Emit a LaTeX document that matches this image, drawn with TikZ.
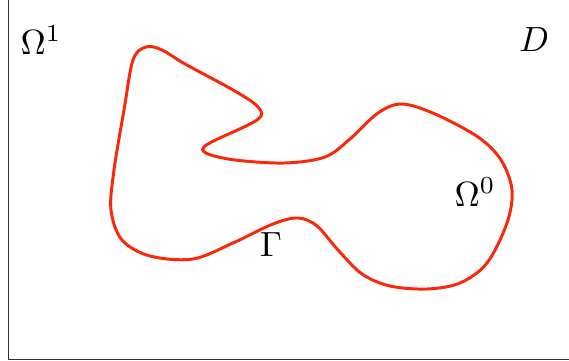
\documentclass[tikz,border=0pt]{standalone}
\usetikzlibrary{calc}
\definecolor{curvered}{RGB}{250,40,10}
\begin{document}
\begin{tikzpicture}[x=0.2857pt,y=-0.2857pt,
  frameline/.style={draw=black!80,line width=0.4pt},
  boundary/.style={draw=curvered,line width=0.85pt},
  lbl/.style={inner sep=0pt,font=\normalsize}]
\useasboundingbox (0,0) rectangle (569,361);
\coordinate (tl) at (8.5,0);
\coordinate (bl) at (8.5,359.5);
\coordinate (br) at (569,359.5);
\draw[frameline] (tl) -- (bl) -- (br);
\draw[boundary] plot[smooth cycle,tension=0.55] coordinates {
 (133,60) (146,47) (162,50) (185,64) (233,90) (258,107) (257,120)
 (208,144) (206,153) (235,160) (285,163) (325,157) (350,139) (378,113)
 (402,104) (435,114) (478,137) (501,160) (512,190) (507,223) (487,263)
 (460,283) (427,289) (390,286) (362,274) (338,250) (317,226) (298,218)
 (273,224) (233,243) (193,259) (150,256) (122,240) (111,210) (114,170)
 (124,110)};
\node[lbl] (om1) at (41,40) {$\Omega^1$};
\node[lbl] (dd) at (534,40) {$D$};
\node[lbl] (om0) at (475,192) {$\Omega^0$};
\node[lbl] (gam) at (271,245) {$\Gamma$};
\end{tikzpicture}
\end{document}
